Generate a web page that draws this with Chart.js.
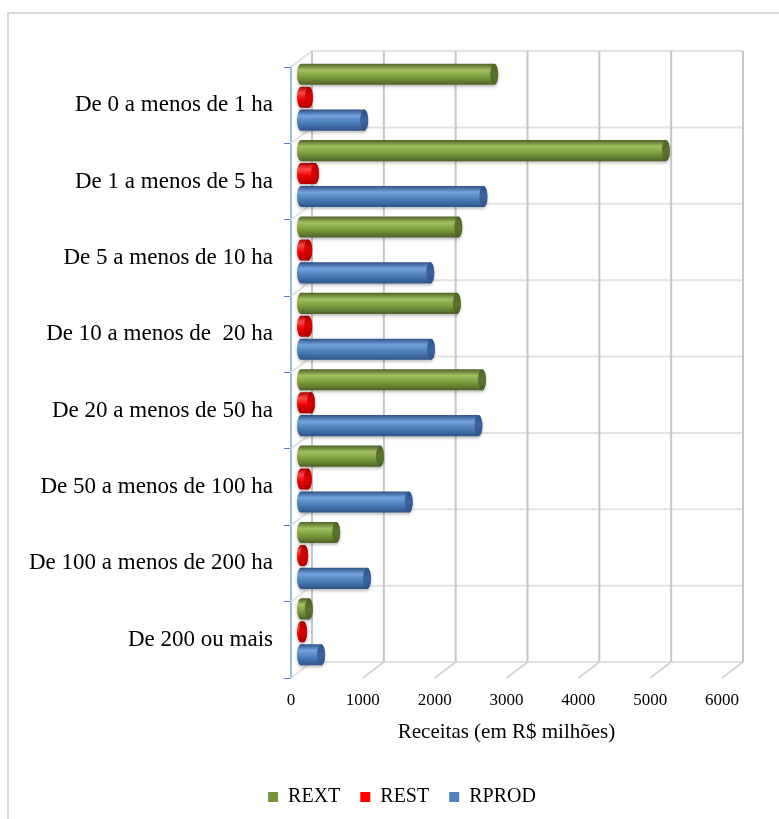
<!DOCTYPE html>
<html>
<head>
<meta charset="utf-8">
<script src="https://cdn.jsdelivr.net/npm/chart.js@4/dist/chart.umd.min.js"></script>
<style>
  html, body { margin: 0; padding: 0; background: #fff; }
  #wrap { width: 779px; height: 819px; }
</style>
</head>
<body>
<div id="wrap"><canvas id="chart" width="779" height="819"></canvas></div>
<script>
  const categories = [
    "De 0 a menos de 1 ha",
    "De 1 a menos de 5 ha",
    "De 5 a menos de 10 ha",
    "De 10 a menos de  20 ha",
    "De 20 a menos de 50 ha",
    "De 50 a menos de 100 ha",
    "De 100 a menos de 200 ha",
    "De 200 ou mais"
  ];
  const rext = [2690, 5080, 2190, 2170, 2520, 1100, 490, 110];
  const rest = [110, 195, 100, 100, 140, 95, 45, 30];
  const rprod = [880, 2540, 1800, 1810, 2470, 1500, 920, 280];
  const xMin = 0;
  const xMax = 6000;
  const xStep = 1000;

  const FONT = "'Liberation Serif', 'Times New Roman', serif";

  // depth of the back wall and of the bar plane, in px
  const WALL_DX = 21, WALL_DY = -16;
  const BAR_DX = 10, BAR_DY = -8;
  const CAP_RX = 4;

  const looks = {
    REXT: { dark: "#4f6228", light: "#a2c062", base: "#7f9f3f", cap: "#5b7430" },
    REST: { dark: "#b00000", light: "#ff4a4a", base: "#f00000", cap: "#d80000" },
    RPROD: { dark: "#2f5488", light: "#74a2de", base: "#4f81bd", cap: "#3b659f" }
  };

  function cylinder(ctx, x0, x1, yc, h, c) {
    const top = yc - h / 2, bot = yc + h / 2, ry = h / 2;
    const g = ctx.createLinearGradient(0, top, 0, bot);
    g.addColorStop(0, c.dark);
    g.addColorStop(0.3, c.light);
    g.addColorStop(0.6, c.base);
    g.addColorStop(1, c.dark);

    ctx.save();
    ctx.shadowColor = "rgba(0,0,0,0.25)";
    ctx.shadowBlur = 3;
    ctx.shadowOffsetY = 2;
    ctx.beginPath();
    ctx.moveTo(x0, top);
    ctx.lineTo(x1, top);
    ctx.ellipse(x1, yc, CAP_RX, ry, 0, -Math.PI / 2, Math.PI / 2);
    ctx.lineTo(x0, bot);
    ctx.ellipse(x0, yc, CAP_RX, ry, 0, Math.PI / 2, Math.PI * 1.5);
    ctx.closePath();
    ctx.fillStyle = g;
    ctx.fill();
    ctx.restore();

    const cg = ctx.createLinearGradient(0, top, 0, bot);
    cg.addColorStop(0, c.dark);
    cg.addColorStop(0.5, c.cap);
    cg.addColorStop(1, c.dark);
    ctx.beginPath();
    ctx.ellipse(x1, yc, CAP_RX, ry, 0, 0, Math.PI * 2);
    ctx.fillStyle = cg;
    ctx.fill();
  }

  const frame = {
    id: "frame",
    beforeDraw(chart) {
      const ctx = chart.ctx;
      ctx.save();
      ctx.fillStyle = "#fff";
      ctx.fillRect(0, 0, chart.width, chart.height);
      ctx.strokeStyle = "#d9d9d9";
      ctx.lineWidth = 2;
      ctx.strokeRect(8, 13, 900, 900);
      ctx.restore();
    }
  };

  const walls = {
    id: "walls",
    beforeDatasetsDraw(chart) {
      const ctx = chart.ctx;
      const x = chart.scales.x, y = chart.scales.y;
      const area = chart.chartArea;
      const band = (area.bottom - area.top) / categories.length;
      const left = x.getPixelForValue(xMin), right = x.getPixelForValue(xMax);
      ctx.save();

      // horizontal lines of the back wall, plus little diagonals on the left wall
      ctx.strokeStyle = "#e2e2e2";
      ctx.lineWidth = 2;
      for (let i = 0; i <= categories.length; i++) {
        const yb = (i < categories.length ? y.getPixelForValue(i) - band / 2 : area.bottom);
        ctx.beginPath();
        ctx.moveTo(left, yb);
        ctx.lineTo(left + WALL_DX, yb + WALL_DY);
        ctx.lineTo(right + WALL_DX, yb + WALL_DY);
        ctx.stroke();
      }

      // vertical lines of the back wall, plus floor diagonals
      for (let v = xMin; v <= xMax; v += xStep) {
        const px = x.getPixelForValue(v);
        ctx.strokeStyle = "#c6c6c6";
        ctx.beginPath();
        ctx.moveTo(px + WALL_DX, area.top + WALL_DY);
        ctx.lineTo(px + WALL_DX, area.bottom + WALL_DY);
        ctx.stroke();
        if (v > xMin) {
          ctx.strokeStyle = "#d4d4d4";
          ctx.beginPath();
          ctx.moveTo(px + WALL_DX, area.bottom + WALL_DY);
          ctx.lineTo(px, area.bottom);
          ctx.stroke();
        }
      }
      ctx.restore();
    },
    beforeDatasetDraw(chart, args) {
      const ctx = chart.ctx;
      const ds = chart.data.datasets[args.index];
      const c = looks[ds.label];
      args.meta.data.forEach((bar) => {
        const p = bar.getProps(["x", "y", "base", "height"], true);
        cylinder(ctx, p.base + BAR_DX, p.x + BAR_DX, p.y + BAR_DY, p.height, c);
      });
      return false;
    }
  };

  new Chart(document.getElementById("chart"), {
    type: "bar",
    data: {
      labels: categories,
      datasets: [
        { label: "REXT", data: rext, backgroundColor: "#77933c" },
        { label: "REST", data: rest, backgroundColor: "#ff0000" },
        { label: "RPROD", data: rprod, backgroundColor: "#4f81bd" }
      ]
    },
    options: {
      indexAxis: "y",
      responsive: false,
      animation: false,
      categoryPercentage: 0.9,
      barPercentage: 0.92,
      layout: { padding: { left: 25, right: 0, top: 67, bottom: 2 } },
      plugins: {
        tooltip: { enabled: false },
        legend: {
          position: "bottom",
          labels: {
            boxWidth: 10,
            boxHeight: 10,
            padding: 20,
            color: "#000",
            font: { family: FONT, size: 20 }
          }
        }
      },
      scales: {
        x: {
          min: xMin,
          max: xMax,
          grid: { display: false },
          border: { display: false },
          ticks: {
            stepSize: xStep,
            padding: 4,
            color: "#000",
            font: { family: FONT, size: 17 },
            callback: (value) => String(value)
          },
          title: {
            display: true,
            text: "Receitas (em R$ milhões)",
            color: "#000",
            font: { family: FONT, size: 21 },
            padding: { top: 8, bottom: 22 }
          },
          afterFit(s) { s.height = 89; }
        },
        y: {
          grid: { offset: true, drawOnChartArea: false, tickLength: 7, color: "#4a7ebb" },
          border: { display: true, color: "#9dbbe0", width: 2 },
          ticks: { padding: 11, color: "#000", font: { family: FONT, size: 23 } },
          afterFit(s) { s.width = 291 - 25; }
        },
        spacer: {
          type: "linear",
          position: "right",
          grid: { display: false },
          border: { display: false },
          ticks: { display: false },
          afterFit(s) { s.width = 57; }
        }
      }
    },
    plugins: [frame, walls]
  });
</script>
</body>
</html>
